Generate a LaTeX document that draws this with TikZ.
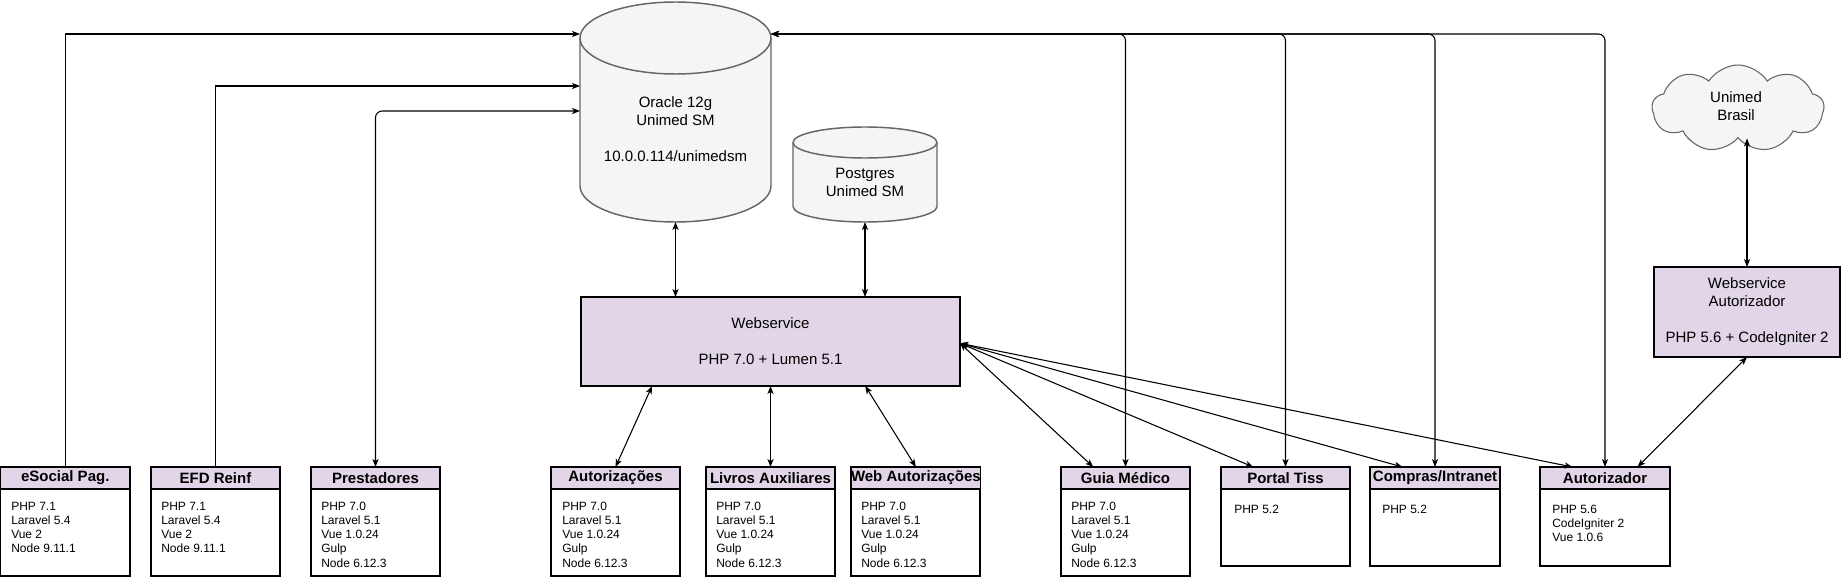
\documentclass[tikz,border=0pt]{standalone}
\usepackage{fontspec}
\setmainfont{Liberation Sans}
\usetikzlibrary{arrows.meta,calc,shapes.geometric,shapes.symbols}
\definecolor{purp}{HTML}{E1D5E7}
\definecolor{dbfill}{HTML}{F5F5F5}
\definecolor{dbline}{HTML}{666666}
\def\px{0.75pt}
\newcommand\appbox[8]{%
  \node[hdr, minimum width=#3*\px, anchor=north west] (#1) at (#2,467) {#5};
  \node[bodybox, minimum width=#3*\px, minimum height={(#4-489)*\px}, anchor=north west] (#1b) at (#2,489) {};
  \node[bodytxt, anchor=base west] (#1t) at (#6,#7) {\begin{tabular}[t]{@{}l@{}}#8\end{tabular}};
}
\begin{document}
\begin{tikzpicture}[x=0.75pt,y=-0.75pt,
  hdr/.style={draw=black, fill=purp, line width=0.9pt, inner sep=0pt, outer sep=0pt, minimum height=22*\px, font=\fontsize{11.25}{13.5}\selectfont\bfseries},
  bodybox/.style={draw=black, fill=white, line width=0.9pt, inner sep=0pt, outer sep=0pt},
  bodytxt/.style={inner sep=0pt, font=\fontsize{9}{10.7}\selectfont},
  dbtext/.style={inner sep=0pt, align=center, font=\fontsize{11.25}{13.5}\selectfont},
  purpbox/.style={draw=black, fill=purp, line width=0.9pt, inner sep=0pt, outer sep=0pt},
  tipA/.tip={Stealth[length=6pt,width=4.6pt,inset=1.6pt]},
  conn/.style={line width=0.8pt, draw=black},
  bi/.style={conn, tipA-tipA},
  uni/.style={conn, -tipA},
  cyl/.style={fill=dbfill, draw=dbline, line width=1.1pt},
]
\useasboundingbox (0,0) rectangle (1841,577);

% Oracle cylinder
\path[cyl] (580,38) -- (580,186) arc[start angle=180,end angle=360,x radius=71.625pt,y radius=27pt]
  -- (771,38) arc[start angle=0,end angle=180,x radius=71.625pt,y radius=27pt] -- cycle;
\draw[dbline, line width=1.1pt] (580,38) arc[start angle=180,end angle=360,x radius=71.625pt,y radius=27pt];
\node[dbtext] (oracle) at (675.5,129) {Oracle 12g\\Unimed SM\\[13.5pt]10.0.0.114/unimedsm};
\coordinate (oraA) at (580,34);
\coordinate (oraB) at (580,86);
\coordinate (oraC) at (580,111);
\coordinate (oraR) at (771,34);
\coordinate (oraBot) at (675.5,222);

% Postgres cylinder
\path[cyl] (793,142.5) -- (793,206.5) arc[start angle=180,end angle=360,x radius=54pt,y radius=11.625pt]
  -- (937,142.5) arc[start angle=0,end angle=180,x radius=54pt,y radius=11.625pt] -- cycle;
\draw[dbline, line width=1.1pt] (793,142.5) arc[start angle=180,end angle=360,x radius=54pt,y radius=11.625pt];
\node[dbtext] (postgres) at (865,182) {Postgres\\Unimed SM};
\coordinate (pgBot) at (865,222);

% Cloud
\node[cloud, cloud puffs=9, cloud puff arc=115, aspect=2, draw=dbline, fill=dbfill, line width=0.8pt, minimum width=172*\px, minimum height=87*\px, inner sep=0pt] (cloud) at (1738,108.5) {};
\node[dbtext] (cloudtxt) at (1736,106) {Unimed\\Brasil};

% Webservices
\node[purpbox, dbtext, minimum width=379*\px, minimum height=89*\px, anchor=north west] (ws) at (581,297) {Webservice\\[13.5pt]PHP 7.0 + Lumen 5.1};
\node[purpbox, dbtext, minimum width=186*\px, minimum height=90*\px, anchor=north west] (wsaut) at (1654,267) {Webservice\\Autorizador\\[13.5pt]PHP 5.6 + CodeIgniter 2};

% Application boxes
\appbox{esocial}{0.5}{129.5}{576}{eSocial Pag.}{11}{510}{PHP 7.1\\Laravel 5.4\\Vue 2\\Node 9.11.1}
\appbox{efd}{151}{129}{576}{EFD Reinf}{161}{510}{PHP 7.1\\Laravel 5.4\\Vue 2\\Node 9.11.1}
\appbox{prest}{311}{129}{576}{Prestadores}{321}{510}{PHP 7.0\\Laravel 5.1\\Vue 1.0.24\\Gulp\\Node 6.12.3}
\appbox{autoriz}{551}{129}{576}{Autorizações}{562}{510}{PHP 7.0\\Laravel 5.1\\Vue 1.0.24\\Gulp\\Node 6.12.3}
\appbox{livros}{706}{129}{576}{Livros Auxiliares}{716}{510}{PHP 7.0\\Laravel 5.1\\Vue 1.0.24\\Gulp\\Node 6.12.3}
\appbox{webaut}{851}{129}{576}{Web Autorizações}{861}{510}{PHP 7.0\\Laravel 5.1\\Vue 1.0.24\\Gulp\\Node 6.12.3}
\appbox{guia}{1061}{129}{576}{Guia Médico}{1071}{510}{PHP 7.0\\Laravel 5.1\\Vue 1.0.24\\Gulp\\Node 6.12.3}
\appbox{tiss}{1221}{129}{566}{Portal Tiss}{1234}{513}{PHP 5.2}
\appbox{compras}{1370}{130}{566}{Compras/Intranet}{1382}{513}{PHP 5.2}
\appbox{autorizador}{1540}{130}{566}{Autorizador}{1552}{513}{PHP 5.6\\CodeIgniter 2\\Vue 1.0.6}

% Connectors
\draw[uni] (esocial.north) |- (oraA);
\draw[uni] (efd.north) |- (oraB);
\draw[bi, rounded corners=5pt] (prest.north) |- (oraC);
\draw[bi] (oraBot) -- (oraBot |- ws.north);
\draw[bi] (pgBot) -- (pgBot |- ws.north);
\draw[bi] ($(ws.south west)!0.1875!(ws.south east)$) -- (autoriz.north);
\draw[bi] (ws.south) -- (livros.north);
\draw[bi] ($(ws.south west)!0.75!(ws.south east)$) -- (webaut.north);
\coordinate (wsR) at ($(ws.north east)!0.52!(ws.south east)$);
\foreach \bx in {guia,tiss,compras,autorizador} {
  \draw[bi] (wsR) -- ($(\bx.north west)!0.25!(\bx.north east)$);
  \draw[bi, rounded corners=5pt] (oraR) -| (\bx.north);
}
\draw[bi] ($(autorizador.north west)!0.75!(autorizador.north east)$) -- (wsaut.south);
\draw[bi] (wsaut.north) -- (wsaut.north |- cloud.south);
\end{tikzpicture}
\end{document}
